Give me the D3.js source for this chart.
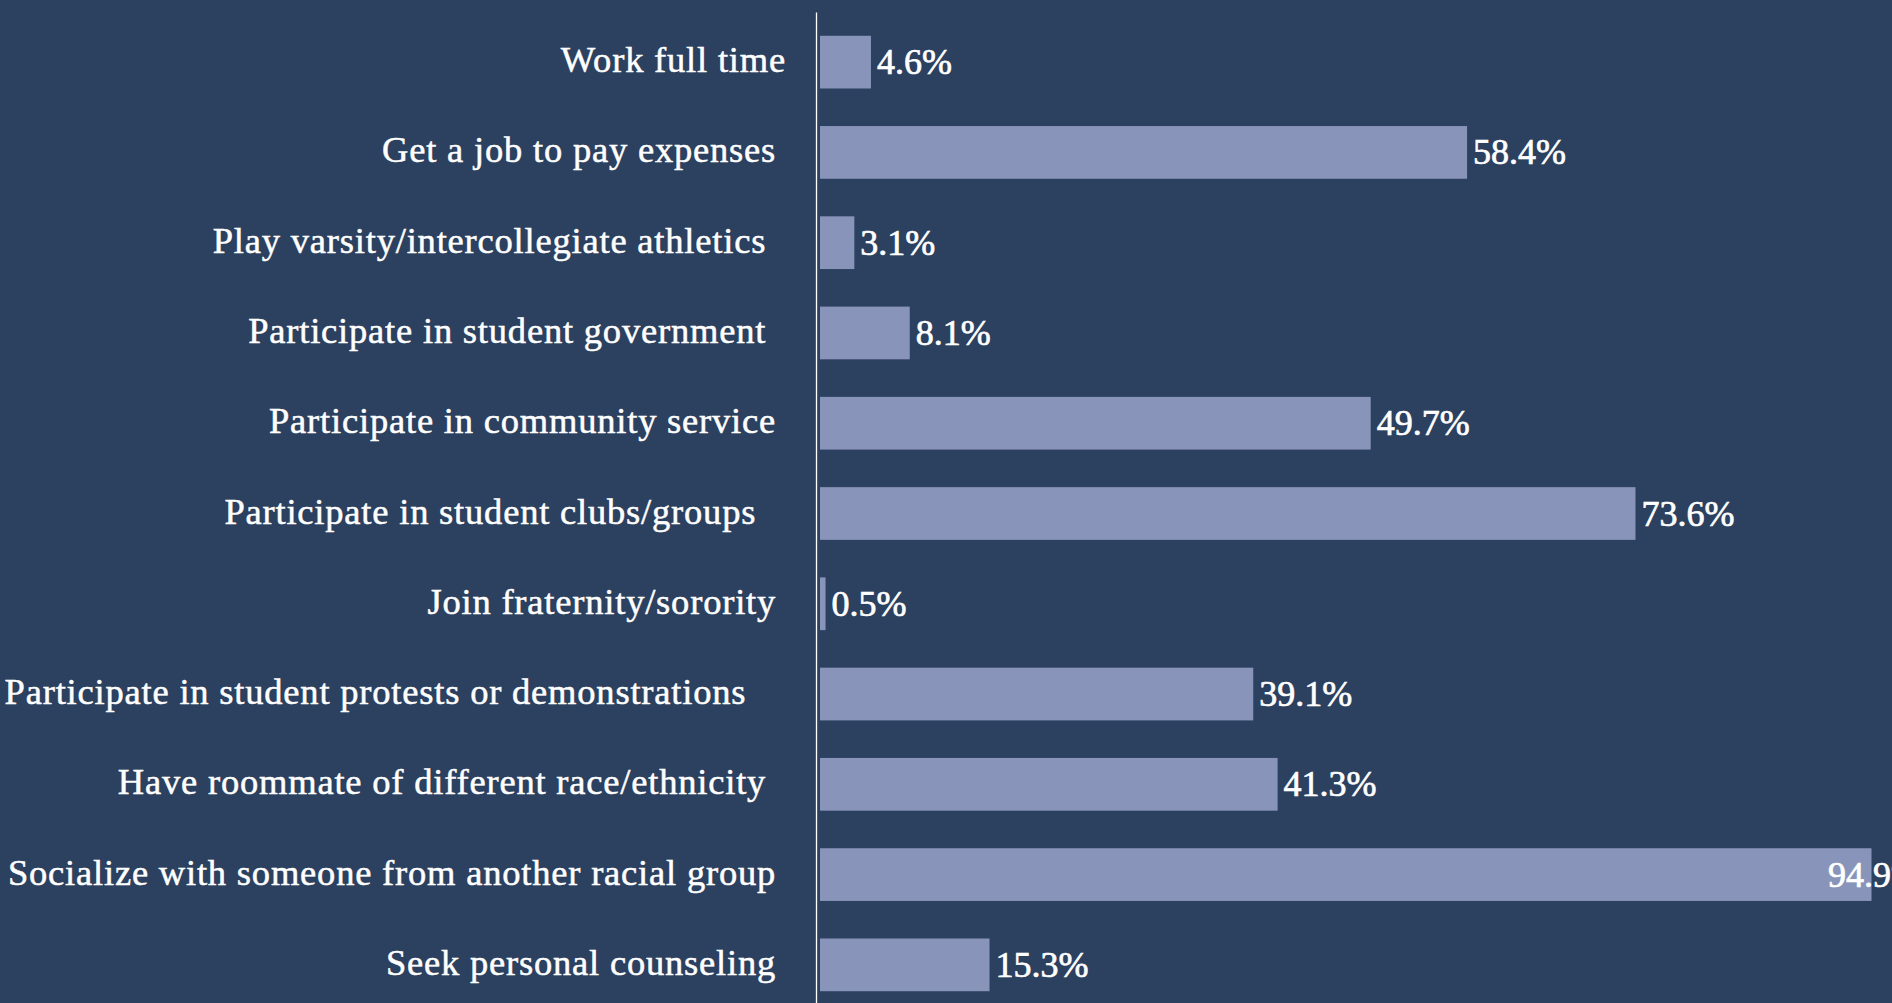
<!DOCTYPE html>
<html>
<head>
<meta charset="utf-8">
<script src="https://cdn.jsdelivr.net/npm/d3@7"></script>
<style>
  html, body { margin: 0; padding: 0; background: #2c4160; overflow: hidden; }
  svg { display: block; }
  text { font-family: "Liberation Serif", "DejaVu Serif", serif; fill: #ffffff; stroke: #ffffff; stroke-width: 0.5px; white-space: pre; }
</style>
</head>
<body>
<script>
// Labels keep the trailing blanks they carry in the source sheet
const categories = [
  "Work full time",
  "Get a job to pay expenses ",
  "Play varsity/intercollegiate athletics  ",
  "Participate in student government  ",
  "Participate in community service ",
  "Participate in student clubs/groups   ",
  "Join fraternity/sorority ",
  "Participate in student protests or demonstrations    ",
  "Have roommate of different race/ethnicity  ",
  "Socialize with someone from another racial group ",
  "Seek personal counseling "
];
const values = [4.6, 58.4, 3.1, 8.1, 49.7, 73.6, 0.5, 39.1, 41.3, 94.9, 15.3];

const width = 1892, height = 1003;

const svg = d3.select("body")
  .append("svg")
  .attr("width", width)
  .attr("height", height);

svg.append("rect")
  .attr("width", width)
  .attr("height", height)
  .attr("fill", "#2c4160");

// Set the ranges
const x = d3.scaleLinear().domain([0, 100]).range([820, 1928]);
const y = d3.scaleBand()
  .domain(categories)
  .range([17, 1010])
  .paddingInner(0.416)
  .paddingOuter(0.208);

const rows = categories.map((c, i) => ({ c, v: values[i] }));

// Bars
svg.selectAll("rect.bar")
  .data(rows)
  .enter().append("rect")
  .attr("class", "bar")
  .attr("x", x(0))
  .attr("y", d => y(d.c))
  .attr("width", d => x(d.v) - x(0))
  .attr("height", y.bandwidth())
  .attr("fill", "#8894b9");

// Vertical axis line
svg.append("line")
  .attr("x1", 816.5).attr("x2", 816.5)
  .attr("y1", 12.5).attr("y2", height)
  .attr("stroke", "#ffffff")
  .attr("stroke-width", 1.3);

// Category labels
svg.selectAll("text.cat")
  .data(rows)
  .enter().append("text")
  .attr("class", "cat")
  .attr("x", 786)
  .attr("y", d => y(d.c) + y.bandwidth() / 2 + 10)
  .attr("text-anchor", "end")
  .attr("font-size", 36.5)
  .attr("letter-spacing", 0.8)
  .text(d => d.c);

// Value labels
svg.selectAll("text.val")
  .data(rows)
  .enter().append("text")
  .attr("class", "val")
  .attr("x", d => Math.min(x(d.v) + 6, width - 64))
  .attr("y", d => y(d.c) + y.bandwidth() / 2 + 12)
  .attr("font-size", 36)
  .style("stroke-width", "0.7px")
  .text(d => d.v.toFixed(1) + "%");
</script>
</body>
</html>
